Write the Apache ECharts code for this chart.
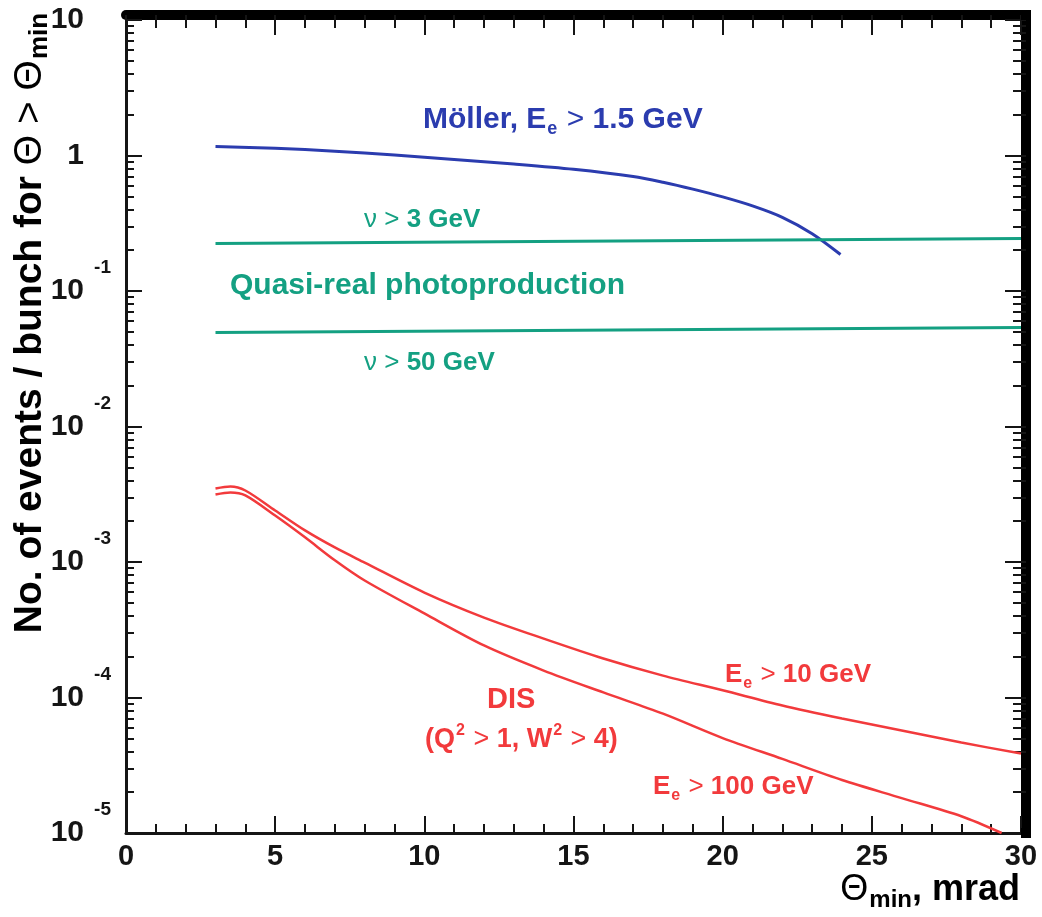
<!DOCTYPE html>
<html>
<head>
<meta charset="utf-8">
<title>Events per bunch vs theta min</title>
<script src="https://cdn.jsdelivr.net/npm/echarts@6/dist/echarts.min.js"></script>
<style>
  html, body { margin: 0; padding: 0; background: #fff; }
  #main { width: 1042px; height: 917px; }
</style>
</head>
<body>
<div id="main"></div>
<script>
// Möller, Ee > 1.5 GeV
const mollerX = [3, 5, 7, 9, 11, 13, 15, 17, 18, 19, 20, 21, 22, 23, 23.95]
const mollerY = [1.164, 1.13, 1.077, 1.009, 0.935, 0.865, 0.791, 0.7, 0.635, 0.565, 0.495, 0.425, 0.35, 0.265, 0.186]

// quasi-real photoproduction
const photoX = [3, 30]
const photo3Y = [0.224, 0.244]    // nu > 3 GeV
const photo50Y = [0.0494, 0.0538] // nu > 50 GeV

// DIS, Ee > 10 GeV
const dis10X = [3, 3.5, 4, 5, 6, 7, 8, 10, 12, 14, 16, 18, 20, 22, 24, 26, 28, 30]
const dis10Y = [3.49e-3, 3.61e-3, 3.37e-3, 2.4e-3, 1.71e-3, 1.28e-3, 9.9e-4, 5.95e-4, 3.89e-4, 2.72e-4,
  1.94e-4, 1.45e-4, 1.13e-4, 8.73e-5, 7.0e-5, 5.71e-5, 4.65e-5, 3.86e-5]

// DIS, Ee > 100 GeV
const dis100X = [3, 3.5, 4, 5, 6, 7, 8, 10, 12, 14, 16, 18, 20, 22, 24, 26, 28, 29.35]
const dis100Y = [3.15e-3, 3.26e-3, 3.1e-3, 2.2e-3, 1.52e-3, 1.03e-3, 7.3e-4, 4.17e-4, 2.42e-4, 1.58e-4,
  1.09e-4, 7.6e-5, 5.02e-5, 3.52e-5, 2.46e-5, 1.81e-5, 1.33e-5, 1.0e-5]

// ticks
const xMin = 0, xMax = 30, xStep = 5
const yMin = 1e-5, yMax = 10
// minor ticks of the log axis, in log10 space (2..9 x 10^n)
const yMinorTicks = []
for (let n = -5; n < 1; n++) {
  for (let k = 2; k <= 9; k++) yMinorTicks.push(Math.log10(k) + n)
}

const pairs = (xs, ys) => xs.map((x, i) => [x, ys[i]])

const FONT = 'Liberation Sans'
const INK = '#151515'
const BLUE = '#2b3caf'
const TEAL = '#14a082'
const RED = '#f23a3c'

const myChart = echarts.init(document.getElementById('main'))

const xCommon = {
  type: 'value', min: xMin, max: xMax, interval: xStep,
  splitLine: { show: false }
}
const yCommon = {
  type: 'log', min: yMin, max: yMax, logBase: 10,
  splitLine: { show: false }
}
const yMinorCommon = {
  type: 'value', min: -5, max: 1,
  splitLine: { show: false },
  axisLine: { show: false, onZero: false },
  axisLabel: { show: false }
}

const lineSeries = (name, data, color, width) => ({
  name, type: 'line', data, showSymbol: false, smooth: 0.3,
  lineStyle: { color, width }, xAxisIndex: 0, yAxisIndex: 0,
  silent: true, z: 3
})

// rich text styles for the annotations
const richFor = (color, size) => ({
  b: { fontFamily: FONT, fontWeight: 'bold', fontSize: size, color },
  t: { fontFamily: FONT, fontWeight: 'normal', fontSize: size, color },
  s: { fontFamily: FONT, fontWeight: 'bold', fontSize: Math.round(size * 0.6), color, padding: [18, 1, 0, 1] },
  p: { fontFamily: FONT, fontWeight: 'bold', fontSize: Math.round(size * 0.6), color, padding: [0, 1, 18, 1] }
})

// x = left edge, y = vertical centre of the text
const label = (x, y, text, color, size) => ({
  type: 'text', x, y, z: 10,
  style: { text, fill: color, rich: richFor(color, size), align: 'left', verticalAlign: 'middle' }
})

myChart.setOption({
  animation: false,
  backgroundColor: '#fff',
  grid: { left: 126, right: 21, top: 20, bottom: 84, containLabel: false, outerBoundsMode: 'none' },
  xAxis: [
    Object.assign({}, xCommon, {
      position: 'bottom',
      axisLine: { onZero: false, lineStyle: { color: INK, width: 3 } },
      axisTick: { inside: true, length: 17, lineStyle: { color: INK, width: 2 } },
      minorTick: { show: true, splitNumber: 5, length: 9, lineStyle: { color: INK, width: 2 } },
      axisLabel: { color: INK, fontFamily: FONT, fontWeight: 'bold', fontSize: 29, margin: 9 }
    }),
    Object.assign({}, xCommon, {
      position: 'top', offset: 5,
      axisLine: {
        onZero: false, symbol: ['none', 'rect'], symbolSize: [10, 10], symbolOffset: [0, 5],
        lineStyle: { color: '#000', width: 10 }
      },
      axisTick: { inside: true, length: 20, lineStyle: { color: INK, width: 2 } },
      minorTick: { show: true, splitNumber: 5, length: 13, lineStyle: { color: INK, width: 2 } },
      axisLabel: { show: false }
    })
  ],
  yAxis: [
    Object.assign({}, yCommon, {
      position: 'left',
      axisLine: { onZero: false, lineStyle: { color: INK, width: 3 } },
      axisTick: { inside: true, length: 16, lineStyle: { color: INK, width: 2 } },
      axisLabel: {
        margin: 10,
        formatter: function (v) {
          const e = Math.round(Math.log10(v))
          if (e === 1) return '{b|10}{e| }'
          if (e === 0) return '{b|1}{e| }'
          return '{b|10}{e|' + e + '}'
        },
        rich: {
          b: { fontFamily: FONT, fontWeight: 'bold', fontSize: 30, color: INK },
          e: { fontFamily: FONT, fontWeight: 'bold', fontSize: 19, color: INK, width: 27, align: 'left', padding: [0, 0, 46, 5] }
        }
      }
    }),
    Object.assign({}, yCommon, {
      position: 'right', offset: 5,
      axisLine: {
        onZero: false, symbol: ['rect', 'none'], symbolSize: [10, 10],
        lineStyle: { color: '#000', width: 10 }
      },
      axisTick: { inside: true, length: 21, lineStyle: { color: INK, width: 2 } },
      axisLabel: { show: false }
    }),
    Object.assign({}, yMinorCommon, {
      position: 'left',
      axisTick: { inside: true, length: 8, customValues: yMinorTicks, lineStyle: { color: INK, width: 2 } }
    }),
    Object.assign({}, yMinorCommon, {
      position: 'right', offset: 5,
      axisTick: { inside: true, length: 13, customValues: yMinorTicks, lineStyle: { color: INK, width: 2 } }
    })
  ],
  series: [
    lineSeries('Möller', pairs(mollerX, mollerY), BLUE, 3),
    lineSeries('nu > 3 GeV', pairs(photoX, photo3Y), TEAL, 3),
    lineSeries('nu > 50 GeV', pairs(photoX, photo50Y), TEAL, 3),
    lineSeries('Ee > 10 GeV', pairs(dis10X, dis10Y), RED, 2.5),
    lineSeries('Ee > 100 GeV', pairs(dis100X, dis100Y), RED, 2.5)
  ],
  graphic: [
    label(423, 120, '{b|Möller, E}{s|e}{t| > }{b|1.5 GeV}', BLUE, 30),
    label(364, 220, '{t|ν > }{b|3 GeV}', TEAL, 26),
    label(230, 286, '{b|Quasi-real photoproduction}', TEAL, 30),
    label(364, 363, '{t|ν > }{b|50 GeV}', TEAL, 26),
    label(487, 700, '{b|DIS}', RED, 29),
    label(425, 740, '{b|(Q}{p|2}{t| > }{b|1, W}{p|2}{t| > }{b|4)}', RED, 27),
    label(725, 675, '{b|E}{s|e}{t| > }{b|10 GeV}', RED, 26),
    label(653, 787, '{b|E}{s|e}{t| > }{b|100 GeV}', RED, 26),
    // y axis title
    {
      type: 'text', x: 30, y: 323, rotation: Math.PI / 2, z: 10,
      style: {
        text: '{b|No. of events / bunch for }{t|Θ > Θ}{s|min}',
        align: 'center', verticalAlign: 'middle',
        rich: {
          b: { fontFamily: FONT, fontWeight: 'bold', fontSize: 39, color: INK },
          t: { fontFamily: FONT, fontWeight: 'normal', fontSize: 39, color: INK },
          s: { fontFamily: FONT, fontWeight: 'bold', fontSize: 26, color: INK, padding: [20, 0, 0, 1] }
        }
      }
    },
    // x axis title
    {
      type: 'text', x: 1020, y: 890, z: 10,
      style: {
        text: '{t|Θ}{s|min}{b|, mrad}',
        align: 'right', verticalAlign: 'middle',
        rich: {
          t: { fontFamily: FONT, fontWeight: 'normal', fontSize: 36, color: INK },
          s: { fontFamily: FONT, fontWeight: 'bold', fontSize: 24, color: INK, padding: [20, 0, 0, 1] },
          b: { fontFamily: FONT, fontWeight: 'bold', fontSize: 36, color: INK }
        }
      }
    }
  ]
})
</script>
</body>
</html>
